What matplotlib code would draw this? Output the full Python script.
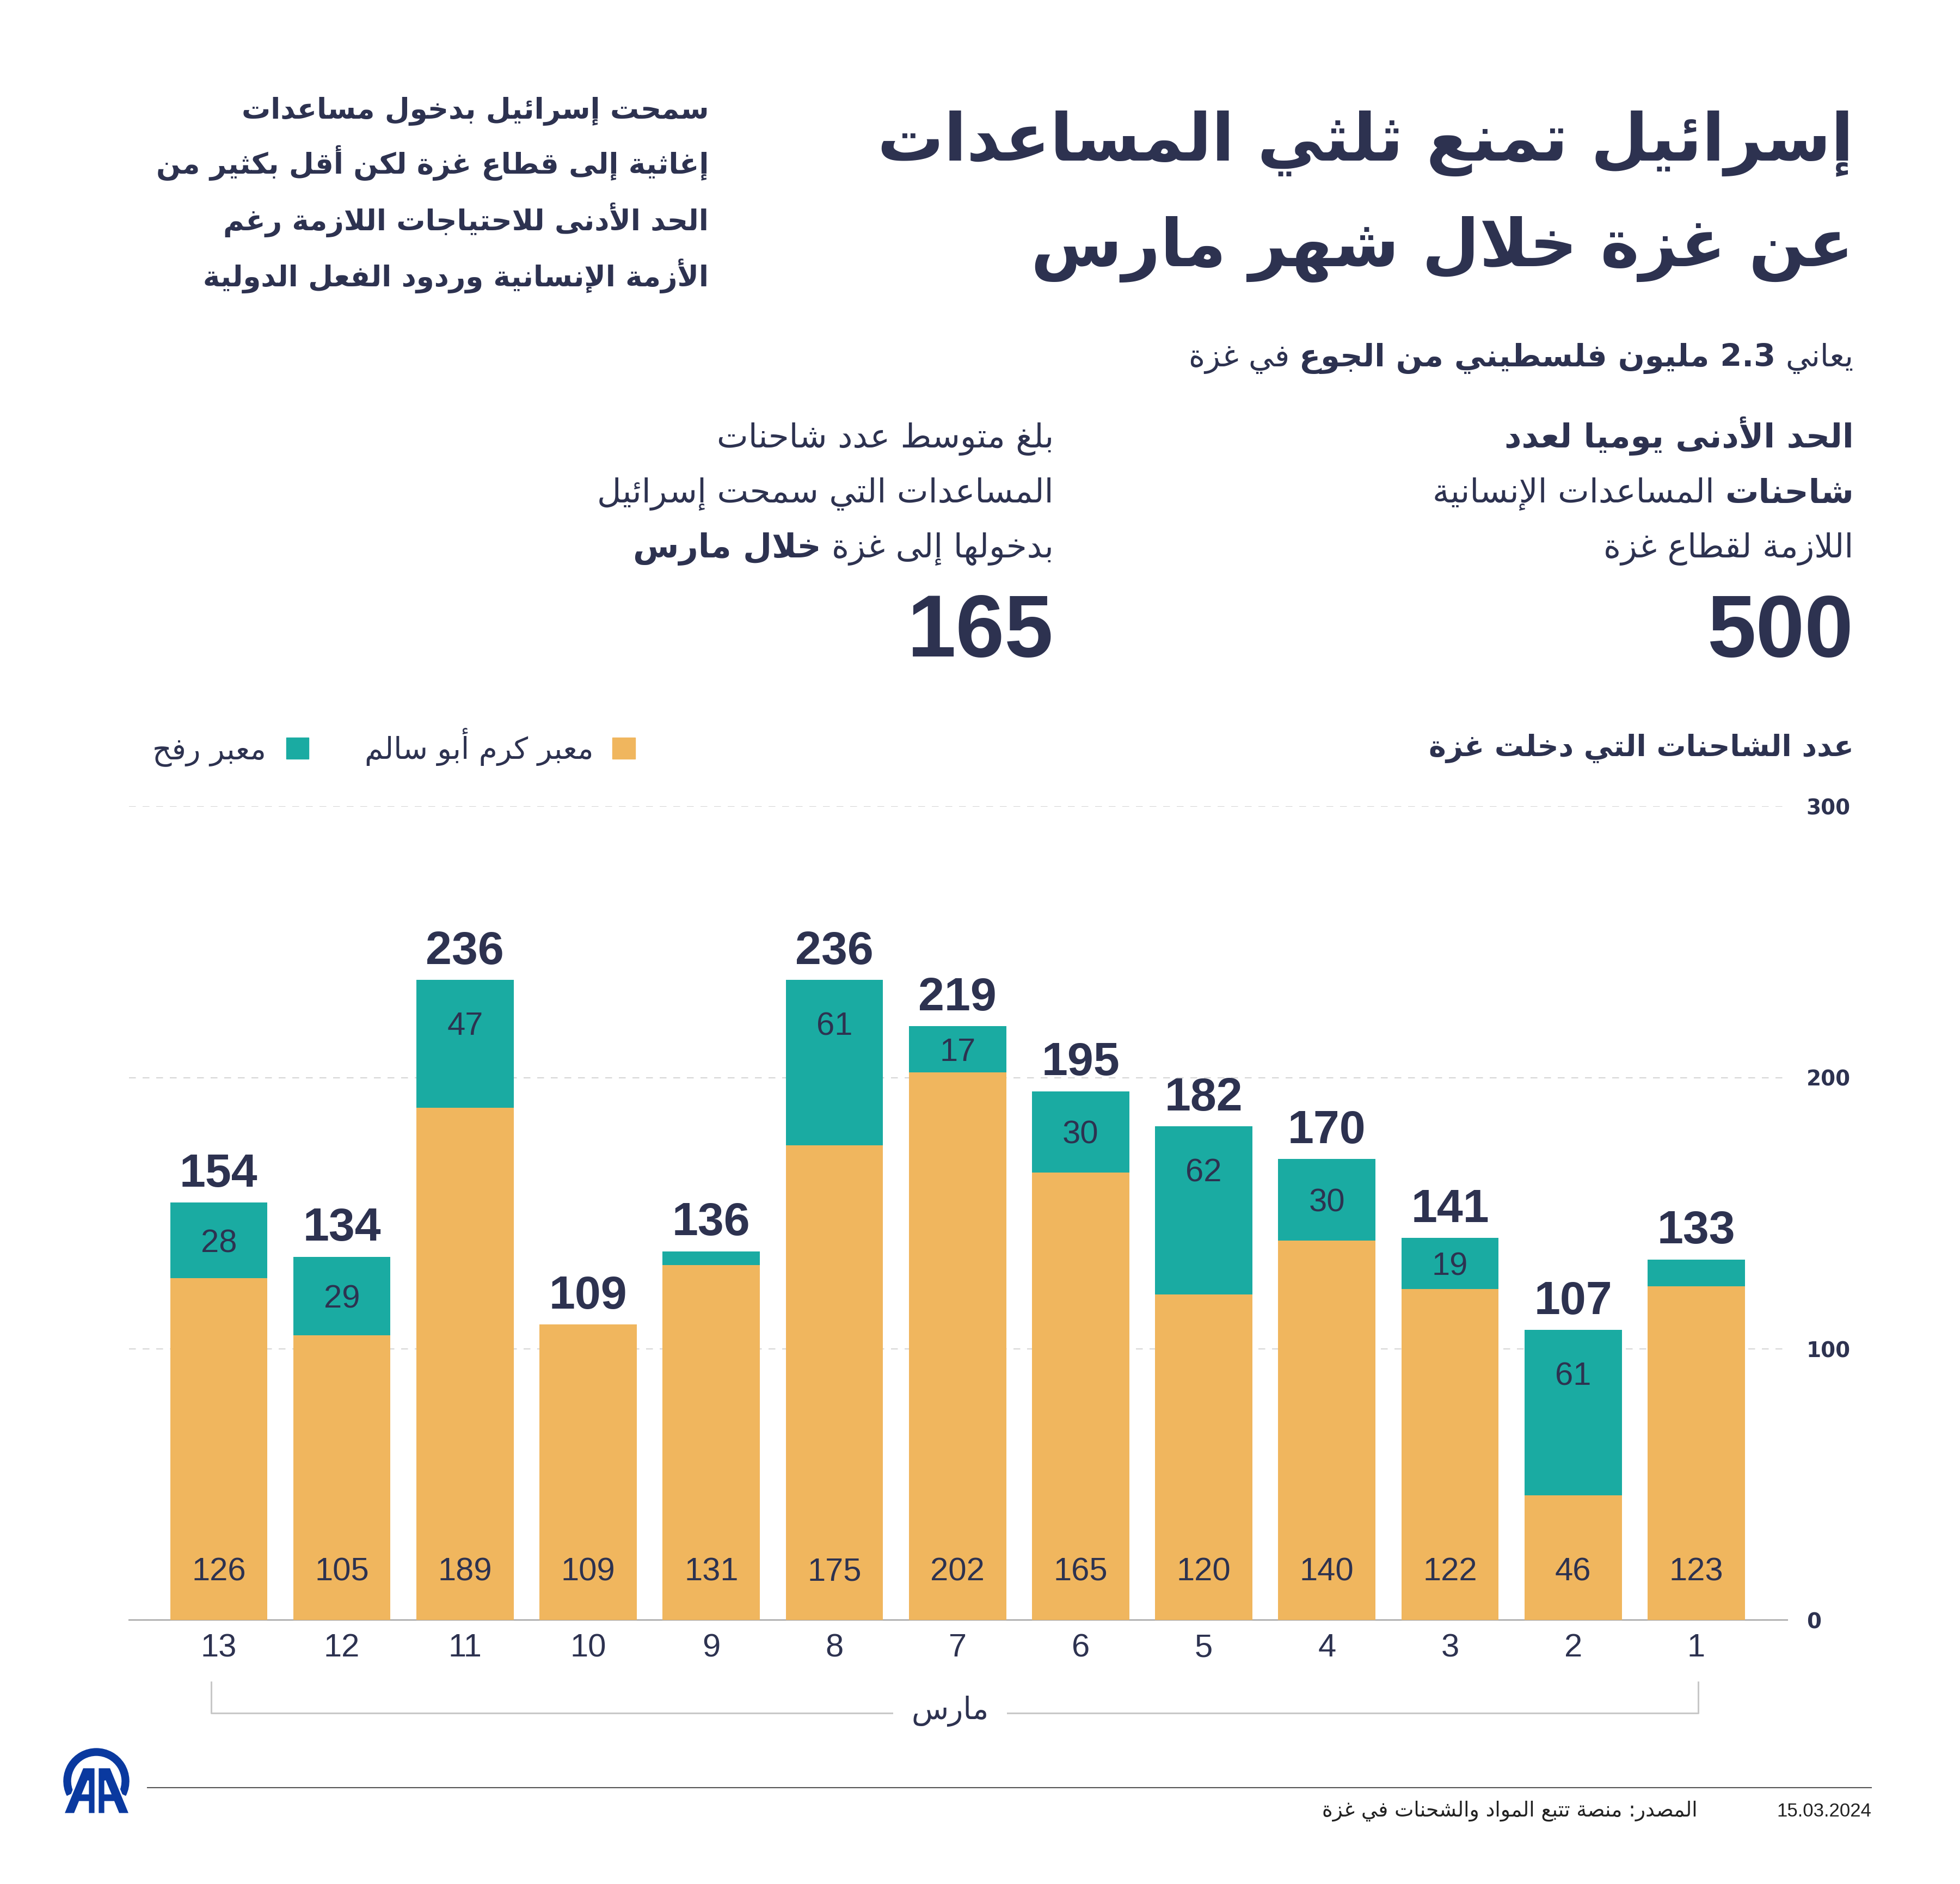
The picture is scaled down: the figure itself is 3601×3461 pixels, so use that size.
"""Daily aid trucks entering Gaza, 1-13 March 2024 (AA infographic)."""

import re

import matplotlib
matplotlib.use("Agg")
import matplotlib.pyplot as plt
import numpy as np
from matplotlib.lines import Line2D
from matplotlib.patches import PathPatch, Rectangle, Wedge
from matplotlib.path import Path

# ---- data ------------------------------------------------------------------
days = ["13", "12", "11", "10", "9", "8", "7", "6", "5", "4", "3", "2", "1"]
kerem_shalom = [126, 105, 189, 109, 131, 175, 202, 165, 120, 140, 122, 46, 123]
rafah = [28, 29, 47, 0, 5, 61, 17, 30, 62, 30, 19, 61, 10]
totals = [154, 134, 236, 109, 136, 236, 219, 195, 182, 170, 141, 107, 133]
y_ticks = [0, 100, 200, 300]

minimum_needed = "500"
average_allowed = "165"

title_lines = ["إسرائيل تمنع ثلثي المساعدات", "عن غزة خلال شهر مارس"]
intro_lines = [
    "سمحت إسرائيل بدخول مساعدات",
    "إغاثية إلى قطاع غزة لكن أقل بكثير من",
    "الحد الأدنى للاحتياجات اللازمة رغم",
    "الأزمة الإنسانية وردود الفعل الدولية",
]
subtitle_parts = [("يعاني", False), ("2.3 مليون فلسطيني من الجوع", True), ("في غزة", False)]
need_lines = [
    [("الحد الأدنى يوميا لعدد", True)],
    [("شاحنات", True), ("المساعدات الإنسانية", False)],
    [("اللازمة لقطاع غزة", False)],
]
avg_lines = [
    [("بلغ متوسط عدد شاحنات", False)],
    [("المساعدات التي سمحت إسرائيل", False)],
    [("بدخولها إلى غزة", False), ("خلال مارس", True)],
]
chart_title = "عدد الشاحنات التي دخلت غزة"
legend_labels = ["معبر كرم أبو سالم", "معبر رفح"]
month_label = "مارس"
source_text = "المصدر: منصة تتبع المواد والشحنات في غزة"
date_text = "15.03.2024"

# ---- style ----------------------------------------------------------------
W, H, DPI = 3601, 3461, 100
NAVY = "#2d3250"
ORANGE = "#f0b65e"
TEAL = "#1aaba2"
AA_BLUE = "#0a399f"
AR = "DejaVu Sans"
NUM = "Liberation Sans"

plt.rcParams["font.family"] = ["DejaVu Sans"]

# ---- minimal Arabic shaping (matplotlib has no complex text layout) --------
_LETTERS = "ءآأؤإئابةتثجحخدذرزسشصضطظعغفقكلمنهوىي"
_NFORMS = [1, 2, 2, 2, 2, 4, 2, 4, 2, 4, 4, 4, 4, 4, 2, 2, 2, 2,
           4, 4, 4, 4, 4, 4, 4, 4, 4, 4, 4, 4, 4, 4, 4, 2, 2, 4]
_FORMS = {}
_code = 0xFE80
for _ch, _n in zip(_LETTERS, _NFORMS):
    _FORMS[_ch] = [chr(_code + k) for k in range(_n)]
    _code += _n
_LAM_ALEF = {"آ": 0xFEF5, "أ": 0xFEF7, "إ": 0xFEF9, "ا": 0xFEFB}


def _links_forward(ch):
    return ch in _FORMS and len(_FORMS[ch]) == 4


def _links_back(ch):
    return ch in _FORMS and len(_FORMS[ch]) >= 2


def shape(text):
    out = []
    i = 0
    while i < len(text):
        ch = text[i]
        prev = text[i - 1] if i > 0 else ""
        nxt = text[i + 1] if i + 1 < len(text) else ""
        if ch not in _FORMS:
            out.append(ch)
            i += 1
            continue
        joined = _links_forward(prev)
        if ch == "ل" and nxt in _LAM_ALEF:
            out.append(chr(_LAM_ALEF[nxt] + (1 if joined else 0)))
            i += 2
            continue
        forms = _FORMS[ch]
        a = joined and len(forms) >= 2
        b = len(forms) == 4 and _links_back(nxt)
        out.append(forms[3] if a and b else forms[1] if a else forms[2] if b else forms[0])
        i += 1
    visual = "".join(out)[::-1]
    return re.sub(r"[0-9]+(?:[.,:][0-9]+)*", lambda m: m.group(0)[::-1], visual)


fig = plt.figure(figsize=(W / DPI, H / DPI), dpi=DPI, facecolor="white")
renderer = fig.canvas.get_renderer()


def fx(px):
    return px / 1568.0


def fy(py):
    return 1.0 - py / 1507.0


def space_px(size):
    return 0.32 * size * DPI / 72.0


def parts_width(parts, size):
    total = space_px(size) * (len(parts) - 1)
    for txt, bold in parts:
        t = fig.text(0, 0, shape(txt), fontsize=size, family=AR,
                     fontweight="bold" if bold else "normal")
        total += t.get_window_extent(renderer).width
        t.remove()
    return total


def fit_size(parts, preview_width, base=40.0):
    return base * preview_width * W / 1568.0 / parts_width(parts, base)


def draw_parts(x_right, y, parts, size, color=NAVY):
    x = x_right * W
    for txt, bold in parts:
        t = fig.text(x / W, y, shape(txt), fontsize=size, family=AR,
                     fontweight="bold" if bold else "normal", color=color,
                     ha="right", va="baseline")
        x -= t.get_window_extent(renderer).width + space_px(size)


# ---- header ---------------------------------------------------------------
title_parts = [[(line, True)] for line in title_lines]
size = 0.5 * (fit_size(title_parts[0], 800) + fit_size(title_parts[1], 640))
for parts, yy in zip(title_parts, (128, 213)):
    draw_parts(fx(1483), fy(yy), parts, size)

intro_parts = [[(line, True)] for line in intro_lines]
size = fit_size(intro_parts[1], 442)
for parts, yy in zip(intro_parts, (95, 139, 184, 229)):
    draw_parts(fx(567), fy(yy), parts, size)

draw_parts(fx(1483), fy(293), subtitle_parts, fit_size(subtitle_parts, 531))

size = fit_size(avg_lines[1], 365)
for k, yy in enumerate((358, 402, 446)):
    draw_parts(fx(1483), fy(yy), need_lines[k], size)
    draw_parts(fx(843), fy(yy), avg_lines[k], size)
for value, xr in ((minimum_needed, 1483), (average_allowed, 843)):
    fig.text(fx(xr), fy(525), value, fontsize=116, fontweight="bold", family=NUM,
             color=NAVY, ha="right", va="baseline")

draw_parts(fx(1483), fy(605), [(chart_title, True)], fit_size([(chart_title, True)], 340))

size = fit_size([(legend_labels[0], False)], 183)
for label, color, box_x, text_x in ((legend_labels[0], ORANGE, 490, 475),
                                    (legend_labels[1], TEAL, 229, 213)):
    fig.add_artist(Rectangle((fx(box_x), fy(607)), 18 / 1568.0, 17 / 1507.0,
                             transform=fig.transFigure, color=color))
    draw_parts(fx(text_x), fy(607), [(label, False)], size)

# ---- chart ----------------------------------------------------------------
ax = fig.add_axes([fx(103), fy(1296), fx(1430) - fx(103), fy(645) - fy(1296)])
x = np.arange(len(days))
ax.bar(x, kerem_shalom, width=0.79, color=ORANGE, zorder=3)
ax.bar(x, rafah, bottom=kerem_shalom, width=0.79, color=TEAL, zorder=3)
ax.set_xlim(-0.731, 12.741)
ax.set_ylim(0, 300)

ax.set_yticks(y_ticks)
ax.yaxis.tick_right()
ax.tick_params(axis="y", length=0, pad=25, labelsize=28, labelcolor=NAVY)
for lab in ax.get_yticklabels():
    lab.set_fontweight("bold")
ax.set_xticks(x)
ax.set_xticklabels(days, family=NUM)
ax.tick_params(axis="x", length=0, pad=17, labelsize=43, labelcolor=NAVY)

ax.grid(axis="y", color="#d6d6d6", linestyle=(0, (6, 6)), linewidth=1.5)
ax.set_axisbelow(True)
for side in ("top", "left", "right"):
    ax.spines[side].set_visible(False)
ax.spines["bottom"].set_color("#9a9a9a")
ax.spines["bottom"].set_linewidth(1.5)

for xi, k, r, tot in zip(x, kerem_shalom, rafah, totals):
    ax.annotate(str(tot), (xi, k + r), xytext=(0, 21), textcoords="offset points",
                ha="center", va="baseline", fontsize=62, fontweight="bold",
                family=NUM, color=NAVY)
    ax.annotate(str(k), (xi, 19), xytext=(0, -0.358 * 43), textcoords="offset points",
                ha="center", va="baseline", fontsize=43, family=NUM, color=NAVY)
    if r >= 15:
        ax.annotate(str(r), (xi, max(k + r / 2, k + r - 16)), xytext=(0, -0.358 * 43),
                    textcoords="offset points", ha="center", va="baseline",
                    fontsize=43, family=NUM, color=NAVY)

# month bracket
bx0, bx1 = 388 / W, 3120 / W
by0, by1 = 1 - 3147 / H, 1 - 3090 / H
fig.add_artist(Line2D([bx0, bx0, bx1, bx1], [by1, by0, by0, by1],
                      transform=fig.transFigure, color="#c8c8c8", lw=2.2))
msize = fit_size([(month_label, False)], 62)
fig.text(fx(760), 1 - 3158 / H, shape(month_label), fontsize=msize, family=AR,
         color=NAVY, ha="center", va="baseline",
         bbox=dict(boxstyle="square,pad=0.6", facecolor="white", edgecolor="none"))

# ---- footer ---------------------------------------------------------------
fig.add_artist(Line2D([fx(118), fx(1497)], [fy(1430), fy(1430)],
                      transform=fig.transFigure, color="#555555", lw=1.5))
fig.text(fx(1497), fy(1453), date_text, fontsize=25, family=NUM, color="#222222",
         ha="right", va="baseline")
draw_parts(fx(1358), fy(1453), [(source_text, False)],
           fit_size([(source_text, False)], 301), color="#222222")

# AA logo
lax = fig.add_axes([100 / W, 1 - 3345 / H, 150 / W, 150 / H])
lax.set_xlim(0, 150)
lax.set_ylim(0, 150)
lax.axis("off")
lax.add_patch(Wedge((77, 73), 60, -26, 206, width=13, color=AA_BLUE))
outer = [(17, 13), (37, 13), (46, 35), (62, 35), (62, 13), (75, 13), (75, 98), (52, 98)]
hole = [(52, 50), (62, 74), (62, 50)]
for mirror in (False, True):
    o = [(155 - px, py) for px, py in outer][::-1] if mirror else outer
    h = [(155 - px, py) for px, py in hole][::-1] if mirror else hole
    verts = o + [o[0]] + h + [h[0]]
    codes = ([Path.MOVETO] + [Path.LINETO] * (len(o) - 1) + [Path.CLOSEPOLY]
             + [Path.MOVETO] + [Path.LINETO] * (len(h) - 1) + [Path.CLOSEPOLY])
    lax.add_patch(PathPatch(Path(verts, codes), facecolor=AA_BLUE,
                            edgecolor="white", linewidth=2))

fig.savefig("out.png", dpi=DPI, facecolor="white")
